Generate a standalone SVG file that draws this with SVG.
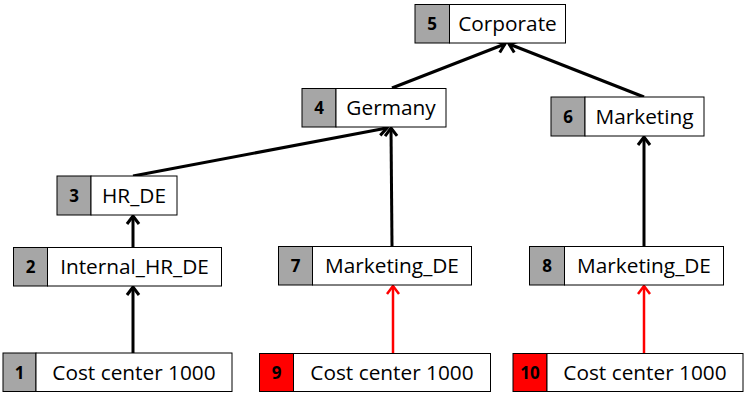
<svg xmlns="http://www.w3.org/2000/svg" width="744" height="400" viewBox="0 0 744 400">
<style>
  .box { fill: #ffffff; stroke: #000000; stroke-width: 1; }
  .num { fill: #a6a6a6; stroke: #000000; stroke-width: 1; }
  .numr { fill: #ff0000; stroke: #000000; stroke-width: 1; }
  .lbl { font-family: "Open Sans", "Liberation Sans", sans-serif; font-size: 20.8px; fill: #000000; text-anchor: middle; }
  .id { font-family: "Open Sans", "Liberation Sans", sans-serif; font-size: 17px; font-weight: bold; fill: #000000; text-anchor: middle; }
  .conn { fill: none; stroke: #000000; stroke-width: 3; marker-end: url(#ah); }
  .connr { fill: none; stroke: #ff0000; stroke-width: 2.5; marker-end: url(#ahr); }
</style>
<defs>
  <marker id="ah" viewBox="-10 -8 12 16" markerWidth="12" markerHeight="16" refX="0" refY="0" orient="auto" markerUnits="userSpaceOnUse">
    <path d="M-8,-6 L0,0 L-8,6" fill="none" stroke="#000000" stroke-width="3"/>
  </marker>
  <marker id="ahr" viewBox="-10 -8 12 16" markerWidth="12" markerHeight="16" refX="0" refY="0" orient="auto" markerUnits="userSpaceOnUse">
    <path d="M-8,-6 L0,0 L-8,6" fill="none" stroke="#ff0000" stroke-width="2.5"/>
  </marker>
</defs>
<rect width="744" height="400" fill="#ffffff"/>

<g id="connectors">
  <line class="conn" x1="392" y1="88" x2="505" y2="44"/>
  <line class="conn" x1="644" y1="97" x2="509" y2="44"/>
  <line class="conn" x1="133" y1="176" x2="387" y2="128"/>
  <line class="conn" x1="392" y1="246" x2="391" y2="128"/>
  <line class="conn" x1="644" y1="246" x2="644" y2="137"/>
  <line class="conn" x1="133" y1="247" x2="133" y2="216"/>
  <line class="conn" x1="133" y1="353" x2="133" y2="287"/>
  <line class="connr" x1="393" y1="353" x2="393" y2="286"/>
  <line class="connr" x1="644" y1="353" x2="644" y2="286"/>
</g>

<g id="node5">
  <rect class="num" x="415" y="4.5" width="34.5" height="38.5"/>
  <rect class="box" x="449.5" y="4.5" width="116" height="38.5"/>
  <text class="id" x="432" y="30">5</text>
  <text class="lbl" x="507.5" y="31">Corporate</text>
</g>

<g id="node4">
  <rect class="num" x="302" y="88.5" width="34" height="38.5"/>
  <rect class="box" x="336" y="88.5" width="110" height="38.5"/>
  <text class="id" x="319" y="114">4</text>
  <text class="lbl" x="391" y="115">Germany</text>
</g>

<g id="node6">
  <rect class="num" x="551" y="97" width="34" height="39"/>
  <rect class="box" x="585" y="97" width="119" height="39"/>
  <text class="id" x="568" y="122.5">6</text>
  <text class="lbl" x="644.5" y="123.5">Marketing</text>
</g>

<g id="node3">
  <rect class="num" x="57" y="176" width="34" height="39"/>
  <rect class="box" x="91" y="176" width="86" height="39"/>
  <text class="id" x="74" y="201.5">3</text>
  <text class="lbl" x="134" y="202.5">HR_DE</text>
</g>

<g id="node2">
  <rect class="num" x="13.5" y="247.5" width="34" height="38.5"/>
  <rect class="box" x="47.5" y="247.5" width="174" height="38.5"/>
  <text class="id" x="30.5" y="273">2</text>
  <text class="lbl" x="134.5" y="274">Internal_HR_DE</text>
</g>

<g id="node7">
  <rect class="num" x="278.5" y="246.5" width="34" height="38.5"/>
  <rect class="box" x="312.5" y="246.5" width="159" height="38.5"/>
  <text class="id" x="295.5" y="272">7</text>
  <text class="lbl" x="392" y="273">Marketing_DE</text>
</g>

<g id="node8">
  <rect class="num" x="529.5" y="246.5" width="35" height="38.5"/>
  <rect class="box" x="564.5" y="246.5" width="159" height="38.5"/>
  <text class="id" x="547" y="272">8</text>
  <text class="lbl" x="644" y="273">Marketing_DE</text>
</g>

<g id="node1">
  <rect class="num" x="3" y="353" width="33" height="38.5"/>
  <rect class="box" x="36" y="353" width="196" height="38.5"/>
  <text class="id" x="19.5" y="378.5">1</text>
  <text class="lbl" x="134" y="379.5">Cost center 1000</text>
</g>

<g id="node9">
  <rect class="numr" x="259.5" y="353.5" width="34" height="38"/>
  <rect class="box" x="293.5" y="353.5" width="197" height="38"/>
  <text class="id" x="276.5" y="379">9</text>
  <text class="lbl" x="392" y="380">Cost center 1000</text>
</g>

<g id="node10">
  <rect class="numr" x="513" y="353.5" width="34" height="38"/>
  <rect class="box" x="547" y="353.5" width="196" height="38"/>
  <text class="id" x="530" y="379">10</text>
  <text class="lbl" x="645" y="380">Cost center 1000</text>
</g>
</svg>
